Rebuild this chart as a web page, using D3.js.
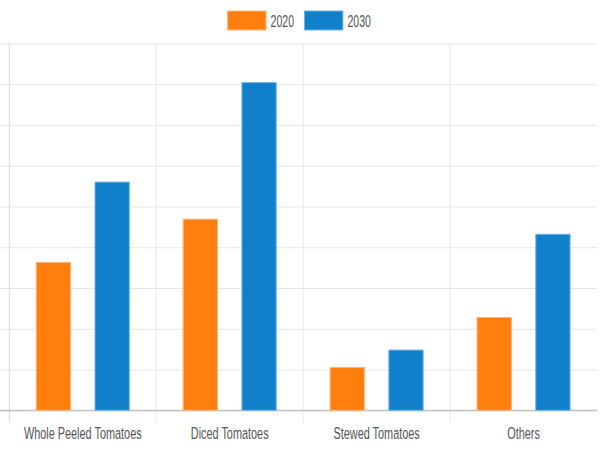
<!DOCTYPE html>
<html>
<head>
<meta charset="utf-8">
<script src="https://cdn.jsdelivr.net/npm/d3@7"></script>
<style>
  body { margin: 0; background: #fff; }
  svg { display: block; }
  text { font-family: "Liberation Sans", Arial, sans-serif; fill: #555; }
</style>
</head>
<body>
<div id="chart"></div>
<script>
// Chart data
let categories = ["Whole Peeled Tomatoes", "Diced Tomatoes", "Stewed Tomatoes", "Others"];
let seriesNames = ["2020", "2030"];
let values2020 = [3.64, 4.70, 1.06, 2.29];
let values2030 = [5.61, 8.05, 1.49, 4.33];
let yTicks = [0, 1, 2, 3, 4, 5, 6, 7, 8, 9];

let colors = ["#ff7f0e", "#0f80c9"];
let borders = ["#ffb27d", "#6fb3e3"];

let svgWidth = 600;
let svgHeight = 452;

// plot area (the y labels sit off-canvas to the left)
let plot = { left: 9.3, right: 597, top: 43.4, bottom: 410.3 };
let squeeze = 0.66; // narrow text look

let svg = d3.select("#chart")
  .append("svg")
  .attr("width", svgWidth)
  .attr("height", svgHeight);

let x0 = d3.scaleBand()
  .domain(categories)
  .range([plot.left, plot.right])
  .padding(0);

let x1 = d3.scaleBand()
  .domain(seriesNames)
  .range([0, x0.bandwidth()])
  .paddingInner(0.4)
  .paddingOuter(0.45);

let y = d3.scaleLinear()
  .domain([0, 9])
  .range([plot.bottom, plot.top]);

// horizontal grid lines, running out past the axis as tick marks
let yAxis = d3.axisLeft(y)
  .tickValues(yTicks)
  .tickSizeInner(-(plot.right - plot.left))
  .tickSizeOuter(0)
  .tickFormat("");

let yGroup = svg.append("g")
  .attr("transform", `translate(${plot.left},0)`)
  .call(yAxis);
yGroup.select(".domain").remove();
yGroup.selectAll(".tick line")
  .attr("x1", -plot.left)
  .attr("stroke", d => d === 0 ? "#bdbdbd" : "#e6e6e6");

// vertical grid lines at category edges
let xEdges = categories.map(c => x0(c));
svg.append("g")
  .selectAll("line")
  .data(xEdges)
  .join("line")
  .attr("x1", d => d)
  .attr("x2", d => d)
  .attr("y1", plot.top)
  .attr("y2", plot.bottom + 12)
  .attr("stroke", d => d === plot.left ? "#dadada" : "#e9e9e9");

// re-draw baseline on top
svg.append("line")
  .attr("x1", 0)
  .attr("x2", plot.right)
  .attr("y1", y(0))
  .attr("y2", y(0))
  .attr("stroke", "#bdbdbd");

// bars
let rows = categories.map((c, i) => ({
  category: c,
  bars: [
    { key: "2020", value: values2020[i] },
    { key: "2030", value: values2030[i] }
  ]
}));

let groups = svg.append("g")
  .selectAll("g")
  .data(rows)
  .join("g")
  .attr("transform", d => `translate(${x0(d.category)},0)`);

groups.selectAll("rect")
  .data(d => d.bars)
  .join("rect")
  .attr("x", d => x1(d.key) + 0.5)
  .attr("y", d => y(d.value) + 0.5)
  .attr("width", x1.bandwidth() - 1)
  .attr("height", d => y(0) - y(d.value) - 0.5)
  .attr("fill", (d, i) => colors[i])
  .attr("stroke", (d, i) => borders[i])
  .attr("stroke-width", 1);

// x labels
svg.append("g")
  .selectAll("text")
  .data(categories)
  .join("text")
  .attr("transform", d => `translate(${x0(d) + x0.bandwidth() / 2},439) scale(${squeeze},1)`)
  .attr("text-anchor", "middle")
  .style("font-size", "16.5px")
  .text(d => d);

// legend
let legend = svg.append("g");
let boxW = 39.4, boxH = 20, boxGap = 4, itemGap = 10;
let cursor = 0;
seriesNames.forEach(function(name, i) {
  let item = legend.append("g").attr("transform", `translate(${cursor},0)`);
  item.append("rect")
    .attr("x", 0.5)
    .attr("y", 11)
    .attr("width", boxW - 1)
    .attr("height", boxH - 1)
    .attr("fill", colors[i])
    .attr("stroke", borders[i]);
  let label = item.append("text")
    .attr("transform", `translate(${boxW + boxGap},27.3) scale(${squeeze},1)`)
    .style("font-size", "16px")
    .text(name);
  let w = label.node().getComputedTextLength() * squeeze;
  cursor += boxW + boxGap + w + itemGap;
});
let legendWidth = cursor - itemGap;
legend.attr("transform", `translate(${299 - legendWidth / 2},0)`);
</script>
</body>
</html>
